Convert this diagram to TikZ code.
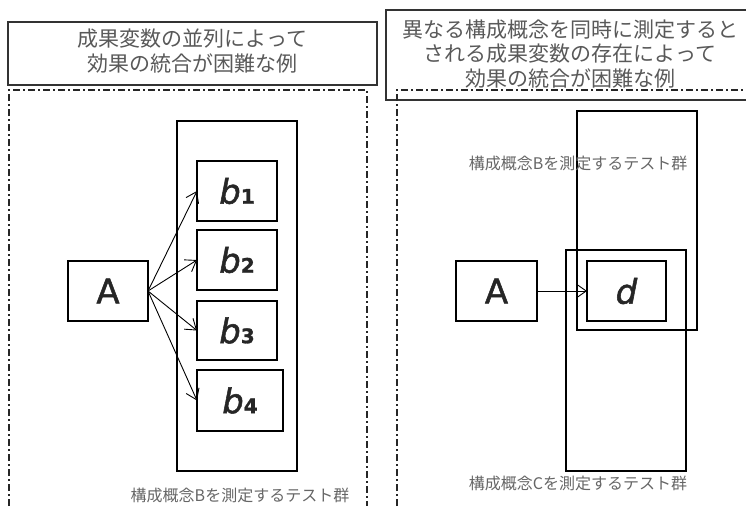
\documentclass[tikz,border=0pt]{standalone}
\usepackage{fontspec}
\newfontfamily\jp{Noto Sans CJK JP}
\newfontfamily\lat[FakeBold=1.5]{DejaVu Sans}
\usetikzlibrary{arrows.meta}
\tikzset{
  box/.style={draw=black, line width=1.1pt, rectangle, inner sep=0pt, outer sep=0pt},
  titlebox/.style={draw=black!80, line width=1.8pt, rectangle, inner sep=0pt, outer sep=0pt},
  dashdot/.style={draw=black!85, line width=1.1pt, dash pattern=on 7pt off 3pt on 2pt off 3pt},
  titletext/.style={text=black!65, font=\jp\fontsize{21}{24.5}\selectfont, align=center, inner sep=0pt},
  labeltext/.style={text=black!60, font=\jp\fontsize{16}{18}\selectfont, inner sep=0pt},
  var/.style={text=black!85, font=\lat\fontsize{34}{36}\selectfont},
  arr/.style={line width=0.9pt, -{Straight Barb[length=10pt,width=14pt,line width=0.9pt]}},
}
\newcommand{\bvar}[1]{\textit{b}{\bfseries\fontsize{20}{22}\selectfont #1}}
\begin{document}
\begin{tikzpicture}[x=1pt,y=-1pt]
\useasboundingbox (0,0) rectangle (746,506);
\clip (0,0) rectangle (746,506);
% ---------- left panel ----------
\node[titlebox, minimum width=369pt, minimum height=63pt] (T1) at (192.5,53.5) {};
\node[titletext] (T1t) at (192.5,51) {成果変数の並列によって\\効果の統合が困難な例};
\draw[dashdot] (9,506) -- (9,90) -- (367,90) -- (367,506);

\node[box, minimum width=120pt, minimum height=350pt] (G1) at (237,296) {};
\node[box, minimum width=80pt, minimum height=60pt, var] (A1) at (108,291) {A};
\node[box, minimum width=80pt, minimum height=60pt, var] (b1) at (237,191) {\bvar{1}};
\node[box, minimum width=80pt, minimum height=60pt, var] (b2) at (237,260) {\bvar{2}};
\node[box, minimum width=80pt, minimum height=59pt, var] (b3) at (237,330.5) {\bvar{3}};
\node[box, minimum width=86pt, minimum height=61pt, var] (b4) at (240,400.5) {\bvar{4}};
\draw[arr] (A1.east) -- (b1.west);
\draw[arr] (A1.east) -- (b2.west);
\draw[arr] (A1.east) -- (b3.west);
\draw[arr] (A1.east) -- (b4.west);
\node[labeltext] (L1) at (240,495) {構成概念Bを測定するテスト群};

% ---------- right panel ----------
\node[titlebox, minimum width=380pt, minimum height=90pt] (T2) at (576,55) {};
\draw[dashdot] (397,506) -- (397,90) -- (760,90);
\node[titletext] (T2t) at (570,54) {異なる構成概念を同時に測定すると\\される成果変数の存在によって\\効果の統合が困難な例};

\node[box, minimum width=120pt, minimum height=219pt] (GB) at (637,220.5) {};
\node[box, minimum width=120pt, minimum height=221pt] (GC) at (626,360.5) {};
\node[box, minimum width=81pt, minimum height=60pt, var] (A2) at (496.5,291) {A};
\node[box, minimum width=79pt, minimum height=60pt, var] (d) at (626.5,291) {\textit{d}};
\draw[arr] (A2.east) -- (d.west);
\node[labeltext] (LB) at (578,163) {構成概念Bを測定するテスト群};
\node[labeltext] (LC) at (578,483) {構成概念Cを測定するテスト群};
\end{tikzpicture}
\end{document}
